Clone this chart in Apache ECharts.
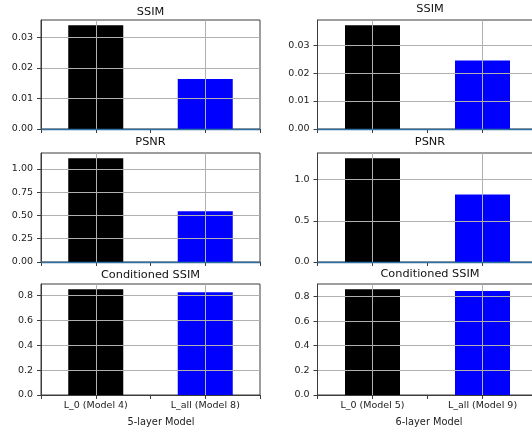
<!DOCTYPE html>
<html>
<head>
<meta charset="utf-8">
<script src="https://cdn.jsdelivr.net/npm/echarts@6/dist/echarts.min.js"></script>
<style>
  html, body { margin: 0; padding: 0; background: #fff; }
  #chart { width: 532px; height: 432px; }
</style>
</head>
<body>
<div id="chart"></div>
<script>
// data
const models5 = ["L_0 (Model 4)", "L_all (Model 8)"];
const models6 = ["L_0 (Model 5)", "L_all (Model 9)"];
const ssim5 = [0.0339, 0.0163];
const psnr5 = [1.115, 0.544];
const condSsim5 = [0.851, 0.827];
const ssim6 = [0.0371, 0.0245];
const psnr6 = [1.262, 0.82];
const condSsim6 = [0.858, 0.844];
// y tick labels
const ssimTicks5 = ["0.00", "0.01", "0.02", "0.03"];
const psnrTicks5 = ["0.00", "0.25", "0.50", "0.75", "1.00"];
const condTicks5 = ["0.0", "0.2", "0.4", "0.6", "0.8"];
const ssimTicks6 = ["0.00", "0.01", "0.02", "0.03"];
const psnrTicks6 = ["0.0", "0.5", "1.0"];
const condTicks6 = ["0.0", "0.2", "0.4", "0.6", "0.8"];
const barColors = ["#000000", "#0000ff"];
const panelTitles = ["SSIM", "PSNR", "Conditioned SSIM"];
const groupNames = ["5-layer Model", "6-layer Model"];

const FONT = "DejaVu Sans";
const FRAME = "#3c3c3c";
const GRIDC = "#b0b0b0";
const ZERO_LINE = "#2f6f9f";

// panel layout (pixels)
const cols = [{ left: 41, width: 219 }, { left: 317.5, width: 220 }];
const rows = [{ top: 20, height: 109 }, { top: 153, height: 109 }, { top: 284, height: 111 }];

const panels = [
  { col: 0, row: 0, values: ssim5, ticks: ssimTicks5, cats: models5 },
  { col: 0, row: 1, values: psnr5, ticks: psnrTicks5, cats: models5 },
  { col: 0, row: 2, values: condSsim5, ticks: condTicks5, cats: models5 },
  { col: 1, row: 0, values: ssim6, ticks: ssimTicks6, cats: models6 },
  { col: 1, row: 1, values: psnr6, ticks: psnrTicks6, cats: models6 },
  { col: 1, row: 2, values: condSsim6, ticks: condTicks6, cats: models6 },
];

const grid = [], xAxis = [], yAxis = [], series = [];
panels.forEach((p, i) => {
  const c = cols[p.col], r = rows[p.row];
  grid.push({
    left: c.left, top: r.top, width: c.width, height: r.height,
    outerBoundsMode: "none", containLabel: false,
    show: true, borderColor: FRAME, borderWidth: 1, backgroundColor: "transparent",
  });
  const step = Number(p.ticks[1]) - Number(p.ticks[0]);
  const dec = p.ticks[1].split(".")[1].length;
  const isBottom = p.row === 2;
  xAxis.push({
    gridIndex: i, type: "value", min: -0.5, max: 1.5, interval: 0.5, z: 3,
    axisLine: { show: true, onZero: false, lineStyle: { color: FRAME, width: 1 } },
    axisTick: { show: true, length: 4, lineStyle: { color: FRAME } },
    axisLabel: {
      show: isBottom, margin: 6, fontFamily: FONT, fontSize: 9.5, color: "#222",
      formatter: (v) => (Math.abs(v) < 1e-9 ? p.cats[0] : Math.abs(v - 1) < 1e-9 ? p.cats[1] : ""),
    },
    splitLine: {
      show: true,
      lineStyle: { color: ["rgba(0,0,0,0)", GRIDC], width: 1 },
    },
  });
  yAxis.push({
    gridIndex: i, type: "value", min: 0, max: 1.05 * Math.max(...p.values), interval: step, z: 3,
    axisLine: { show: true, onZero: false, lineStyle: { color: FRAME } },
    axisTick: { show: true, length: 4, lineStyle: { color: FRAME } },
    axisLabel: {
      margin: 8, fontFamily: FONT, fontSize: 9.5, color: "#222", showMaxLabel: false,
      formatter: (v) => v.toFixed(dec),
    },
    splitLine: { show: true, showMinLine: false, showMaxLine: false, lineStyle: { color: GRIDC, width: 1 } },
  });
  series.push({
    type: "bar", xAxisIndex: i, yAxisIndex: i, barWidth: 55, z: 2,
    data: p.values.map((v, k) => ({ value: [k, v], itemStyle: { color: barColors[k] } })),
    // blue zero line on the upper two rows
    markLine: isBottom ? undefined : {
      silent: true, symbol: "none", z: 10, label: { show: false },
      lineStyle: { color: ZERO_LINE, width: 1.3, type: "solid" },
      data: [{ yAxis: 0 }],
    },
    animation: false,
  });
});

// titles and axis names as text
const graphic = [];
const titleY = [[12, 142.5, 275.5], [9, 142, 274.5]];
[0, 1].forEach((ci) => {
  const cx = cols[ci].left + cols[ci].width / 2;
  panelTitles.forEach((t, ri) => {
    graphic.push({
      type: "text", x: ci === 1 ? 430 : cx, y: titleY[ci][ri],
      style: { text: t, align: "center", verticalAlign: "middle", fontFamily: FONT, fontSize: 11.3, fill: "#111" },
    });
  });
  graphic.push({
    type: "text", x: ci === 0 ? 161 : 429, y: 422,
    style: { text: groupNames[ci], align: "center", verticalAlign: "middle", fontFamily: FONT, fontSize: 9.8, fill: "#222" },
  });
});

const chart = echarts.init(document.getElementById("chart"));
chart.setOption({
  animation: false,
  backgroundColor: "#fff",
  grid, xAxis, yAxis, series, graphic,
});
</script>
</body>
</html>
